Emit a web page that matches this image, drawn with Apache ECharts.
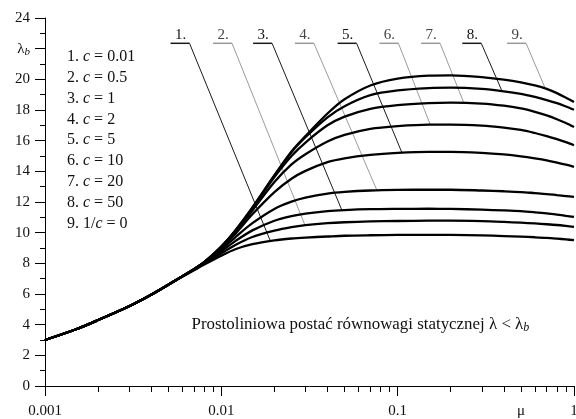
<!DOCTYPE html>
<html lang="pl">
<head>
  <meta charset="UTF-8">
  <title>lambda_b</title>
  <script src="https://cdn.jsdelivr.net/npm/echarts@6/dist/echarts.min.js"></script>
  <style>
    body { margin: 0; padding: 0; background: #fff; }
    #main { width: 576px; height: 419px; }
  </style>
</head>
<body>
<div id="main"></div>
<script>
  // wartosci mu (os x, log)
  var muX = [0.001, 0.0015, 0.002, 0.003, 0.004, 0.005, 0.006, 0.007, 0.008, 0.01, 0.012, 0.015, 0.02, 0.025, 0.03,
             0.04, 0.05, 0.07, 0.1, 0.15, 0.2, 0.3, 0.4, 0.5, 0.6, 0.7, 0.8, 0.9, 1];

  // lambda_b dla kolejnych c
  var c001 = [3.0, 3.7, 4.3, 5.2, 5.95, 6.6, 7.12, 7.55, 7.92, 8.5, 8.92, 9.25, 9.5, 9.62, 9.68,
              9.75, 9.8, 9.83, 9.85, 9.86, 9.85, 9.82, 9.78, 9.74, 9.7, 9.66, 9.61, 9.56, 9.51];
  var c05  = [3.0, 3.7, 4.3, 5.2, 5.95, 6.6, 7.14, 7.58, 7.98, 8.65, 9.2, 9.72, 10.13, 10.36, 10.49,
              10.62, 10.68, 10.73, 10.76, 10.78, 10.78, 10.75, 10.7, 10.65, 10.6, 10.55, 10.5, 10.44, 10.38];
  var c1   = [3.0, 3.7, 4.3, 5.2, 5.95, 6.6, 7.15, 7.6, 8.02, 8.78, 9.45, 10.15, 10.78, 11.08, 11.24,
              11.4, 11.47, 11.53, 11.55, 11.56, 11.55, 11.5, 11.45, 11.4, 11.33, 11.26, 11.18, 11.1, 11.03];
  var c2   = [3.0, 3.7, 4.3, 5.2, 5.95, 6.6, 7.15, 7.62, 8.05, 8.88, 9.7, 10.62, 11.55, 12.02, 12.28,
              12.55, 12.66, 12.75, 12.79, 12.8, 12.8, 12.75, 12.7, 12.65, 12.58, 12.52, 12.45, 12.39, 12.33];
  var c5   = [3.0, 3.7, 4.3, 5.2, 5.95, 6.6, 7.15, 7.62, 8.07, 8.97, 9.92, 11.2, 12.65, 13.52, 14.03,
              14.6, 14.85, 15.07, 15.2, 15.27, 15.27, 15.2, 15.1, 14.98, 14.85, 14.72, 14.57, 14.43, 14.29];
  var c10  = [3.0, 3.7, 4.3, 5.2, 5.95, 6.6, 7.15, 7.62, 8.08, 9.03, 10.05, 11.45, 13.3, 14.45, 15.12,
              15.95, 16.38, 16.77, 16.95, 17.05, 17.05, 16.98, 16.85, 16.7, 16.5, 16.3, 16.1, 15.9, 15.7];
  var c20  = [3.0, 3.7, 4.3, 5.2, 5.95, 6.6, 7.15, 7.62, 8.08, 9.08, 10.1, 11.58, 13.62, 15.0, 15.88,
              17.0, 17.57, 18.08, 18.32, 18.45, 18.48, 18.42, 18.28, 18.1, 17.88, 17.65, 17.4, 17.15, 16.89];
  var c50  = [3.0, 3.7, 4.3, 5.2, 5.95, 6.6, 7.15, 7.62, 8.08, 9.1, 10.13, 11.62, 13.72, 15.25, 16.22,
              17.52, 18.25, 18.97, 19.28, 19.43, 19.46, 19.38, 19.22, 19.05, 18.85, 18.65, 18.45, 18.23, 18.02];
  var cInf = [3.0, 3.7, 4.3, 5.2, 5.95, 6.6, 7.15, 7.62, 8.08, 9.1, 10.15, 11.65, 13.75, 15.3, 16.3,
              17.77, 18.7, 19.6, 20.05, 20.24, 20.26, 20.15, 19.98, 19.8, 19.6, 19.38, 19.1, 18.8, 18.52];

  var curves = [c001, c05, c1, c2, c5, c10, c20, c50, cInf];

  var legendLabels = ['1. {i|c} = 0.01', '2. {i|c} = 0.5', '3. {i|c} = 1', '4. {i|c} = 2', '5. {i|c} = 5',
                      '6. {i|c} = 10', '7. {i|c} = 20', '8. {i|c} = 50', '9. 1/{i|c} = 0'];

  // opisy 1.-9. : gdzie jest napis (mu) i gdzie linia dotyka krzywej
  var leaderNames = ['1.', '2.', '3.', '4.', '5.', '6.', '7.', '8.', '9.'];
  var leaderLabelX = [0.0066, 0.0115, 0.0194, 0.0335, 0.0585, 0.101, 0.174, 0.298, 0.535];
  var leaderPointX = [0.0189, 0.0298, 0.0483, 0.0763, 0.1057, 0.153, 0.237, 0.391, 0.689];
  var leaderPointY = [9.5, 10.49, 11.46, 12.76, 15.22, 17.05, 18.48, 19.22, 19.38];
  var leaderDark = [true, false, true, false, true, false, false, true, false];
  var leaderLevel = 22.35;

  var xMajor = [0.001, 0.01, 0.1, 1];
  var xLabelled = [0.001, 0.01, 0.1, 0.5, 1];

  var serif = '"Liberation Serif", "DejaVu Serif", serif';
  var lg = function (v) { return Math.log10(v); };

  var xMinor = [];
  [0.001, 0.01, 0.1].forEach(function (d) {
    for (var k = 2; k <= 9; k++) xMinor.push(lg(d * k));
  });

  var series = curves.map(function (c, n) {
    return {
      name: legendLabels[n],
      type: 'line',
      data: muX.map(function (m, i) { return [lg(m), c[i]]; }),
      showSymbol: false,
      smooth: 0.3,
      lineStyle: { color: '#000', width: 2.3 },
      z: 3
    };
  });

  // linie odniesienia z numerami
  series.push({
    type: 'custom',
    clip: false,
    z: 2,
    data: leaderNames.map(function (t, i) { return [lg(leaderLabelX[i]), lg(leaderPointX[i]), leaderPointY[i], i]; }),
    renderItem: function (params, api) {
      var i = api.value(3);
      var a = api.coord([api.value(0), leaderLevel]);
      var b = api.coord([api.value(1), api.value(2)]);
      var col = leaderDark[i] ? '#1a1a1a' : '#9a9a9a';
      return {
        type: 'group',
        children: [
          { type: 'line', shape: { x1: a[0] - 19, y1: a[1], x2: a[0], y2: a[1] }, style: { stroke: col, lineWidth: 1.5 } },
          { type: 'line', shape: { x1: a[0], y1: a[1], x2: b[0], y2: b[1] }, style: { stroke: col, lineWidth: 1 } },
          { type: 'text', x: a[0] - 9, y: a[1] - 1, style: {
              text: leaderNames[i], fill: leaderDark[i] ? '#111' : '#444',
              fontFamily: serif, fontSize: 15, textAlign: 'center', textVerticalAlign: 'bottom' } }
        ]
      };
    }
  });

  // napis w polu wykresu
  series.push({
    type: 'custom',
    clip: false,
    z: 2,
    data: [[lg(0.0615), 4.0]],
    renderItem: function (params, api) {
      var p = api.coord([api.value(0), api.value(1)]);
      return {
        type: 'text', x: p[0], y: p[1],
        style: {
          text: '{t|Prostoliniowa postać równowagi statycznej λ < λ}{s|b}',
          textAlign: 'center', textVerticalAlign: 'middle',
          rich: {
            t: { fontFamily: serif, fontSize: 16.9, fill: '#111', lineHeight: 20 },
            s: { fontFamily: serif, fontSize: 12, fontStyle: 'italic', fill: '#111', lineHeight: 20, padding: [7, 0, 0, 0] }
          }
        }
      };
    }
  });

  var option = {
    animation: false,
    grid: { left: 45, right: 2, top: 18, bottom: 33, outerBoundsMode: 'none', containLabel: false },
    xAxis: [
      {
        type: 'value', min: -3, max: 0,
        axisLine: { show: true, onZero: false, lineStyle: { color: '#000', width: 1 } },
        axisTick: { show: true, length: 10, lineStyle: { color: '#000' }, customValues: xMajor.map(lg) },
        axisLabel: {
          customValues: xLabelled.map(lg), margin: 18, color: '#111', fontFamily: serif, fontSize: 15,
          formatter: function (v) {
            var m = Math.pow(10, v);
            if (Math.abs(m - 0.5) < 1e-6) return 'μ';
            return String(Math.round(m * 1000) / 1000);
          }
        },
        splitLine: { show: false }
      },
      {
        type: 'value', min: -3, max: 0, position: 'bottom',
        axisLine: { show: false, onZero: false },
        axisTick: { show: true, length: 6, lineStyle: { color: '#000' }, customValues: xMinor },
        axisLabel: { show: false },
        splitLine: { show: false }
      }
    ],
    yAxis: {
      type: 'value', min: 0, max: 24, interval: 2,
      axisLine: { show: true, onZero: false, lineStyle: { color: '#000', width: 1 } },
      axisTick: { show: true, length: 10, lineStyle: { color: '#000' } },
      minorTick: { show: true, splitNumber: 2, length: 5, lineStyle: { color: '#000' } },
      splitLine: { show: false },
      axisLabel: {
        margin: 15, color: '#111', fontFamily: serif, fontSize: 15,
        formatter: function (v) { return v === 22 ? '{l|λ}{s|b}' : String(v); },
        rich: {
          l: { fontFamily: serif, fontSize: 15, color: '#111', lineHeight: 18 },
          s: { fontFamily: serif, fontSize: 11, fontStyle: 'italic', color: '#111', lineHeight: 18, padding: [7, 0, 0, 0] }
        }
      }
    },
    graphic: legendLabels.map(function (t, i) {
      return {
        type: 'text', left: 67, top: 49 + i * 20.8,
        style: {
          text: t, fill: '#111', fontFamily: serif, fontSize: 16,
          rich: { i: { fontFamily: serif, fontSize: 16, fontStyle: 'italic', fill: '#111' } }
        }
      };
    }),
    series: series
  };

  var chart = echarts.init(document.getElementById('main'));
  chart.setOption(option);
</script>
</body>
</html>
